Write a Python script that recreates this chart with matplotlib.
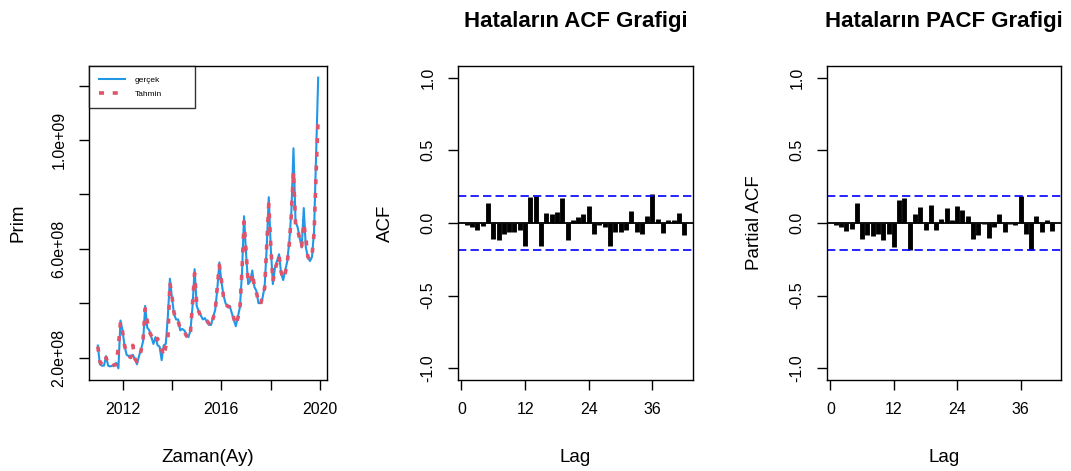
import numpy as np
import matplotlib
matplotlib.use("Agg")
import matplotlib.pyplot as plt

plt.rcParams["font.family"] = ["Liberation Sans", "DejaVu Sans"]

# monthly premium series, 2011-01 .. 2019-12, units of 1e8
gercek = [
    2.44, 1.75, 1.70, 1.70, 2.05, 1.70, 1.67, 1.70, 1.75, 1.80, 1.60, 3.36,
    3.00, 2.40, 2.10, 2.05, 2.05, 2.10, 1.95, 1.75, 2.05, 2.30, 2.60, 3.90,
    3.10, 3.00, 2.75, 2.50, 2.75, 2.45, 2.40, 1.90, 2.45, 2.50, 3.50, 4.90,
    4.20, 3.60, 3.40, 3.40, 3.00, 3.05, 3.00, 2.85, 2.75, 3.00, 3.90, 5.25,
    3.90, 3.70, 3.55, 3.40, 3.45, 3.30, 3.20, 3.20, 3.50, 3.75, 4.50, 5.50,
    4.80, 4.30, 4.00, 3.85, 3.90, 3.65, 3.40, 3.15, 3.50, 3.85, 5.10, 7.20,
    5.80, 4.70, 4.80, 5.20, 4.60, 4.45, 4.00, 4.00, 4.20, 4.60, 6.05, 7.90,
    6.00, 4.70, 5.30, 5.55, 5.80, 5.10, 4.85, 5.20, 5.55, 6.30, 7.40, 9.70,
    7.00, 6.80, 6.40, 6.05, 7.50, 6.05, 5.70, 5.55, 5.70, 6.65, 9.50, 12.30,
]
tahmin = [
    2.40, 1.85, 1.75, 1.70, 2.00, 1.75, 1.70, 1.70, 1.72, 1.75, 2.40, 3.30,
    2.95, 2.45, 2.10, 2.05, 2.00, 2.45, 1.95, 1.85, 2.00, 2.25, 2.70, 3.80,
    3.35, 2.95, 2.80, 2.70, 2.55, 2.70, 2.45, 2.30, 2.05, 2.40, 2.60, 4.75,
    4.25, 3.65, 3.35, 3.35, 3.05, 3.00, 2.95, 2.80, 2.70, 2.95, 4.00, 5.10,
    4.00, 3.70, 3.50, 3.45, 3.40, 3.35, 3.25, 3.15, 3.45, 3.70, 4.60, 5.40,
    4.85, 4.25, 3.95, 3.90, 3.85, 3.70, 3.45, 3.20, 3.45, 3.80, 5.20, 7.00,
    5.90, 4.75, 4.75, 5.10, 4.65, 4.40, 4.05, 3.95, 4.25, 4.55, 6.10, 7.65,
    6.10, 4.80, 5.20, 5.50, 5.75, 5.15, 4.90, 5.10, 5.50, 6.20, 7.30, 8.85,
    6.90, 6.75, 6.35, 6.10, 6.95, 6.40, 5.70, 5.60, 5.75, 6.55, 8.80, 10.85,
]
start_year = 2011

# residual ACF / PACF, lags 1..42
acf_vals = [
    -0.016, -0.03, -0.05, -0.02, 0.14, -0.11, -0.12, -0.075, -0.06, -0.06,
    -0.05, -0.155, 0.18, 0.187, -0.16, 0.07, 0.06, 0.075, 0.17, -0.12,
    0.02, 0.04, 0.065, 0.115, -0.075, -0.015, -0.03, -0.155, -0.06, -0.06,
    -0.05, 0.083, -0.06, -0.075, 0.05, 0.198, 0.03, -0.07, 0.02, 0.02,
    0.07, -0.085,
]
pacf_vals = [
    -0.016, -0.03, -0.055, -0.04, 0.14, -0.11, -0.085, -0.092, -0.078, -0.12,
    -0.074, -0.165, 0.16, 0.175, -0.185, 0.065, 0.11, -0.045, 0.127, -0.05,
    0.03, 0.10, 0.02, 0.115, 0.09, 0.05, -0.11, -0.085, -0.005, -0.10,
    -0.03, 0.065, -0.06, -0.005, -0.016, 0.185, -0.075, -0.185, 0.05, -0.06,
    0.02, -0.055,
]
n_obs = len(gercek)

BLUE = "#2297E6"
RED = "#DF536B"
TICKFS = 11.5
LABFS = 13.5


def r_lim(lo, hi):
    # R style 4% axis padding
    pad = 0.04 * (hi - lo)
    return lo - pad, hi + pad


def style_axes(ax):
    for s in ax.spines.values():
        s.set_linewidth(1.0)
    ax.tick_params(direction="out", length=7.2, width=1.0, pad=9, labelsize=TICKFS)
    for lab in ax.get_yticklabels():
        lab.set_rotation(90)
        lab.set_va("center")


fig = plt.figure(figsize=(10.71, 4.71), dpi=100)
W, H = 1071, 471


def add_ax(x0, y0, x1, y1):
    return fig.add_axes([x0 / W, 1 - y1 / H, (x1 - x0) / W, (y1 - y0) / H])


# ---- panel 1: series and fit
ax1 = add_ax(89, 66, 327, 380)
t = start_year + np.arange(n_obs) / 12.0
g = np.array(gercek) * 1e8
f = np.array(tahmin) * 1e8
ax1.plot(t, g, color=BLUE, lw=1.5, label="gerçek")
ax1.plot(t, f, color=RED, lw=2.6, linestyle=(0, (1.4, 2.4)), label="Tahmin")
ax1.set_xlim(*r_lim(t[0], t[-1]))
ax1.set_ylim(*r_lim(min(g.min(), f.min()), max(g.max(), f.max())))
ax1.set_xticks([2012, 2014, 2016, 2018, 2020])
ax1.set_xticklabels(["2012", "", "2016", "", "2020"])
yt = np.arange(2e8, 1.21e9, 2e8)
ax1.set_yticks(yt)
ax1.set_yticklabels(["2.0e+08", "", "6.0e+08", "", "1.0e+09", ""])
style_axes(ax1)
ax1.set_xlabel("Zaman(Ay)", fontsize=LABFS, va="center")
ax1.set_ylabel("Prim", fontsize=LABFS, va="center")
ax1.xaxis.set_label_coords(0.5, -0.248)
ax1.yaxis.set_label_coords(-0.298, 0.5)
leg = ax1.legend(loc="upper left", bbox_to_anchor=(0, 1, 0.445, 0.0), mode="expand",
                 borderaxespad=0, fontsize=6, frameon=True, fancybox=False,
                 handlelength=3.1, handletextpad=1.2, borderpad=1.2, labelspacing=0.7)
leg.get_frame().set_edgecolor("black")
leg.get_frame().set_linewidth(1.0)


def corr_panel(ax, vals, ylabel, title):
    lags = np.arange(1, len(vals) + 1)
    ax.vlines(lags, 0, vals, color="black", lw=3.5)
    ax.axhline(0, color="black", lw=1.3)
    ci = 1.96 / np.sqrt(n_obs)
    ax.axhline(ci, color="#0000FF", lw=1.2, linestyle=(0, (5, 2.5)))
    ax.axhline(-ci, color="#0000FF", lw=1.2, linestyle=(0, (5, 2.5)))
    ax.set_xlim(*r_lim(1, len(vals)))
    ax.set_ylim(-1.08, 1.08)
    ax.set_xticks([0, 12, 24, 36])
    ax.set_yticks([-1.0, -0.5, 0.0, 0.5, 1.0])
    ax.set_yticklabels(["-1.0", "-0.5", "0.0", "0.5", "1.0"])
    style_axes(ax)
    ax.set_xlabel("Lag", fontsize=LABFS, va="center")
    ax.set_ylabel(ylabel, fontsize=LABFS, va="center")
    ax.xaxis.set_label_coords(0.5, -0.248)
    ax.yaxis.set_label_coords(-0.31, 0.5)
    ax.set_title(title, fontsize=16, fontweight="bold", pad=28)


ax2 = add_ax(458, 66, 693, 380)
corr_panel(ax2, acf_vals, "ACF", "Hataların ACF Grafigi")
ax3 = add_ax(827, 66, 1061, 380)
corr_panel(ax3, pacf_vals, "Partial ACF", "Hataların PACF Grafigi")

fig.savefig("out.png", dpi=100)
